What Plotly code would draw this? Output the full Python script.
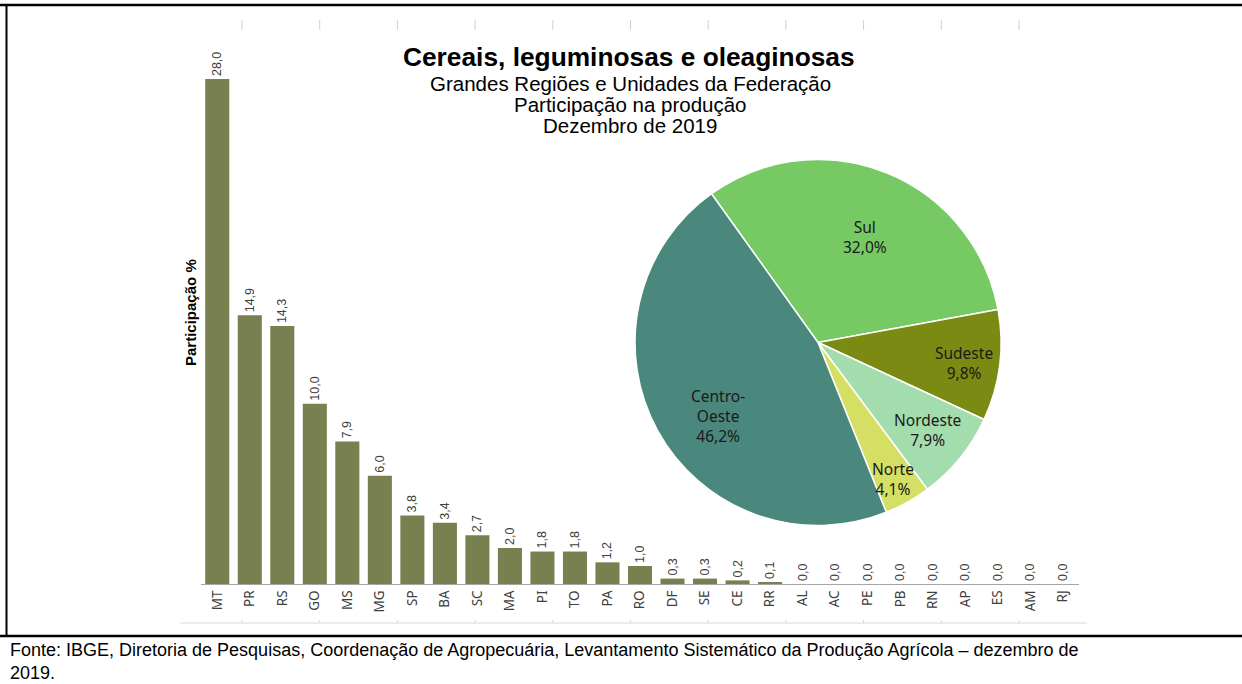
import plotly.graph_objects as go

# ---------------- data ----------------
states = ["MT", "PR", "RS", "GO", "MS", "MG", "SP", "BA", "SC", "MA", "PI", "TO", "PA",
          "RO", "DF", "SE", "CE", "RR", "AL", "AC", "PE", "PB", "RN", "AP", "ES", "AM", "RJ"]
state_share = [28.0, 14.9, 14.3, 10.0, 7.9, 6.0, 3.8, 3.4, 2.7, 2.0, 1.8, 1.8, 1.2,
               1.0, 0.3, 0.3, 0.2, 0.1, 0.0, 0.0, 0.0, 0.0, 0.0, 0.0, 0.0, 0.0, 0.0]
regions = ["Sul", "Sudeste", "Nordeste", "Norte", "Centro-Oeste"]
region_labels = ["Sul", "Sudeste", "Nordeste", "Norte", "Centro-<br>Oeste"]
region_share = [32.0, 9.8, 7.9, 4.1, 46.2]
region_colors = ["#76c963", "#7a8a13", "#a3dcad", "#d4df64", "#4a877c"]

title = "Cereais, leguminosas e oleaginosas"
subtitles = ["Grandes Regiões e Unidades da Federação", "Participação na produção", "Dezembro de 2019"]
y_title = "Participação %"
source = ("Fonte: IBGE, Diretoria de Pesquisas, Coordenação de Agropecuária, "
          "Levantamento Sistemático da Produção Agrícola – dezembro de")
source2 = "2019."

# ---------------- layout geometry ----------------
W, H = 1242, 684
L, R, T, B = 201, 163, 43, 100
PW, PH = W - L - R, H - T - B


def px(x):
    return (x - L) / PW


def py(y):
    return (H - B - y) / PH


def fmt(v):
    return f"{v:.1f}".replace(".", ",")


fig = go.Figure()

fig.add_trace(go.Bar(
    x=states, y=state_share,
    marker=dict(color="#77804e", line=dict(width=0)),
    text=[fmt(v) for v in state_share],
    textposition="outside", textangle=-90, constraintext="none",
    textfont=dict(family="Liberation Sans, Arial", size=12.5, color="#404040"),
    cliponaxis=False, showlegend=False, hoverinfo="skip",
))

# pie
cx, cy, r = 818, 342.5, 183
fig.add_trace(go.Pie(
    labels=regions, values=region_share, sort=False, direction="clockwise",
    rotation=-35.6, marker=dict(colors=region_colors, line=dict(color="white", width=1.5)),
    textinfo="none", showlegend=False, hoverinfo="skip",
    domain=dict(x=[px(cx - r), px(cx + r)], y=[py(cy + r), py(cy - r)]),
))

label_pos = [(865, 237), (964, 363), (927, 430), (893, 479), (718, 416)]
annotations = []
for lab, val, (lx, ly) in zip(region_labels, region_share, label_pos):
    annotations.append(dict(
        x=px(lx), y=py(ly), xref="paper", yref="paper", showarrow=False,
        text=f"{lab}<br>{fmt(val)}%", align="center",
        font=dict(family="Noto Sans, Open Sans", size=15.5, color="#1a1a1a"),
        xanchor="center", yanchor="middle",
    ))

# titles
annotations.append(dict(x=px(629), y=py(57), xref="paper", yref="paper", showarrow=False,
                        text=f"<b>{title}</b>", xanchor="center", yanchor="middle",
                        font=dict(family="Liberation Sans, Arial", size=26.3, color="#000")))
for i, s in enumerate(subtitles):
    annotations.append(dict(x=px(630), y=py(83 + 21.3 * i), xref="paper", yref="paper",
                            showarrow=False, text=s, xanchor="center", yanchor="middle",
                            font=dict(family="Liberation Sans, Arial", size=20.5, color="#000")))
annotations.append(dict(x=px(190), y=py(313), xref="paper", yref="paper", showarrow=False,
                        text=f"<b>{y_title}</b>", textangle=-90, xanchor="center", yanchor="middle",
                        font=dict(family="Liberation Sans, Arial", size=15, color="#000")))
annotations.append(dict(x=px(8), y=py(638), xref="paper", yref="paper", showarrow=False,
                        text=f"{source}<br>{source2}", xanchor="left", yanchor="top", align="left",
                        font=dict(family="Liberation Sans, Arial", size=18, color="#000")))

# frame and faint ghost lines
shapes = [
    dict(type="line", xref="paper", yref="paper", x0=px(0), x1=px(W), y0=py(5), y1=py(5),
         line=dict(color="#000", width=2.5)),
    dict(type="line", xref="paper", yref="paper", x0=px(0), x1=px(W), y0=py(636), y1=py(636),
         line=dict(color="#000", width=2.5)),
    dict(type="line", xref="paper", yref="paper", x0=px(6.5), x1=px(6.5), y0=py(5), y1=py(636),
         line=dict(color="#000", width=2)),
    dict(type="line", xref="paper", yref="paper", x0=px(180), x1=px(1087), y0=py(623), y1=py(623),
         line=dict(color="#d9d9d9", width=1)),
]
for k in range(11):
    tx = 242 + 77.7 * k
    shapes.append(dict(type="line", xref="paper", yref="paper", x0=px(tx), x1=px(tx),
                       y0=py(20), y1=py(30), line=dict(color="#d0d0d0", width=1)))
    shapes.append(dict(type="line", xref="paper", yref="paper", x0=px(tx), x1=px(tx),
                       y0=py(620), y1=py(623), line=dict(color="#d9d9d9", width=1)))

fig.update_layout(
    width=W, height=H, margin=dict(l=L, r=R, t=T, b=B, autoexpand=False),
    paper_bgcolor="white", plot_bgcolor="white",
    bargap=0.26,
    xaxis=dict(showline=True, linecolor="#a6a6a6", linewidth=1, ticks="", tickangle=-90,
               tickfont=dict(family="Noto Sans, Open Sans", size=13.5, color="#404040"),
               showgrid=False, zeroline=False, range=[-0.5, len(states) - 0.5]),
    yaxis=dict(range=[0, 30], visible=False, showgrid=False, zeroline=False),
    annotations=annotations, shapes=shapes,
)

fig.write_html("out.html", config={"displayModeBar": False},
               post_script="document.body.style.margin='0px';document.body.style.overflow='hidden';")
